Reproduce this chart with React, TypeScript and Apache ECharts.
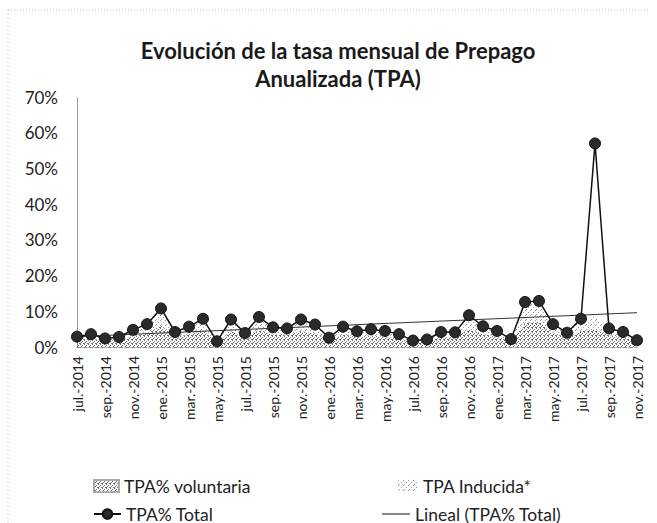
import React, { useEffect, useRef } from "react";
import * as echarts from "echarts";

const months = ["jul.", "ago.", "sep.", "oct.", "nov.", "dic.", "ene.", "feb.", "mar.", "abr.", "may.", "jun."];
const categories: string[] = [];
{
  let m = 0;
  let y = 2014;
  for (let i = 0; i < 41; i++) {
    categories.push(months[m] + "-" + y);
    m++;
    if (m === 6) y++;
    if (m === 12) m = 0;
  }
}

const totalValues = [2.9, 3.6, 2.4, 2.8, 4.8, 6.4, 10.8, 4.2, 5.7, 7.9, 1.6, 7.7, 3.9, 8.4, 5.5, 5.2, 7.7, 6.3, 2.6, 5.7, 4.4, 5.0, 4.5, 3.6, 1.8, 2.1, 4.2, 4.1, 8.9, 5.8, 4.5, 2.2, 12.6, 12.9, 6.4, 4.0, 7.9, 57.0, 5.2, 4.2, 1.9];
const voluntariaValues = [2.0, 2.4, 1.7, 1.9, 3.0, 3.8, 6.0, 2.8, 3.5, 4.6, 1.1, 4.4, 2.6, 4.8, 3.4, 3.3, 4.4, 3.8, 1.8, 3.5, 2.9, 3.2, 2.9, 2.4, 1.3, 1.5, 2.8, 2.7, 5.0, 3.6, 2.9, 1.5, 6.8, 7.0, 3.9, 2.6, 4.5, 4.8, 3.3, 2.8, 1.4];
const inducidaValues = [0.9, 1.2, 0.7, 0.9, 1.8, 2.6, 4.8, 1.4, 2.2, 3.3, 0.5, 3.3, 1.3, 3.6, 2.1, 1.9, 3.3, 2.5, 0.8, 2.2, 1.5, 1.8, 1.6, 1.2, 0.5, 0.6, 1.4, 1.4, 3.9, 2.2, 1.6, 0.7, 5.8, 5.9, 2.5, 1.4, 3.4, 3.6, 1.9, 1.4, 0.5];
const trendValues: [number, number][] = [[0, 2.9], [40, 9.6]];
const yTicks = { min: 0, max: 70, interval: 10 };

function makePattern(dots: [number, number][], size: number, color: string) {
  const c = document.createElement("canvas");
  c.width = size;
  c.height = size;
  const ctx = c.getContext("2d")!;
  ctx.fillStyle = color;
  dots.forEach(([x, y]) => ctx.fillRect(x, y, 1, 1));
  return c;
}

export default function App() {
  const ref = useRef<HTMLDivElement>(null);
  useEffect(() => {
    if (!ref.current) return;
    const chart = echarts.init(ref.current, undefined, { renderer: "svg" });
    const volPat = makePattern([[0, 0], [2, 1], [1, 2], [3, 3], [0, 3]], 4, "#6a6a6a");
    const indPat = makePattern([[0, 0], [3, 2], [1, 4]], 5, "#9a9a9a");
    const font = "Lato, 'Open Sans', sans-serif";
    const legendText = { fontSize: 17.5, color: "#222", fontFamily: font };
    chart.setOption({
      animation: false,
      backgroundColor: "#ffffff",
      textStyle: { fontFamily: font },
      title: {
        text: "Evolución de la tasa mensual de Prepago\nAnualizada (TPA)",
        left: 333,
        top: 31,
        textAlign: "center",
        textStyle: { fontSize: 22, fontWeight: "bold", color: "#1a1a1a", lineHeight: 28, fontFamily: font },
      },
      graphic: [
        {
          type: "line",
          shape: { x1: 8, y1: 10, x2: 650, y2: 10 },
          style: { stroke: "#b8b8b8", lineWidth: 1, lineDash: [1, 2] },
          silent: true,
        },
        {
          type: "line",
          shape: { x1: 8, y1: 10, x2: 8, y2: 523 },
          style: { stroke: "#b8b8b8", lineWidth: 1, lineDash: [1, 3] },
          silent: true,
        },
      ],
      grid: { left: 77, right: 20, top: 97, bottom: 176, containLabel: false },
      xAxis: {
        type: "category",
        data: categories,
        boundaryGap: false,
        axisLine: { show: true, lineStyle: { color: "#888", type: "dashed", width: 1 } },
        axisTick: { show: false },
        axisLabel: { rotate: 90, interval: 1, fontSize: 14, color: "#222", margin: 9, fontFamily: font },
        splitLine: { show: false },
      },
      yAxis: {
        type: "value",
        min: yTicks.min,
        max: yTicks.max,
        interval: yTicks.interval,
        axisLine: { show: true, lineStyle: { color: "#888", type: "dotted", width: 1 } },
        axisTick: { show: false },
        axisLabel: { formatter: "{value}%", fontSize: 17, color: "#222", margin: 19, fontFamily: font },
        splitLine: { show: false },
      },
      legend: [
        {
          data: [{ name: "TPA% voluntaria", icon: "rect" }],
          left: 88, top: 472, itemWidth: 25, itemHeight: 12,
          textStyle: legendText,
        },
        {
          data: [{ name: "TPA Inducida*", icon: "rect" }],
          left: 393, top: 472, itemWidth: 20, itemHeight: 12,
          textStyle: legendText,
        },
        {
          data: [{ name: "TPA% Total" }],
          left: 88, top: 500, itemWidth: 27, itemHeight: 12,
          textStyle: legendText,
        },
        {
          data: [{ name: "Lineal (TPA% Total)", icon: "rect" }],
          left: 377, top: 500, itemWidth: 28, itemHeight: 1.2,
          textStyle: legendText,
        },
      ],
      series: [
        {
          name: "TPA% voluntaria",
          type: "line",
          stack: "tpa",
          data: voluntariaValues,
          symbol: "none",
          lineStyle: { width: 0 },
          itemStyle: { color: { image: volPat, repeat: "repeat" }, borderColor: "#aaa", borderWidth: 0.5 },
          areaStyle: { color: { image: volPat, repeat: "repeat" }, opacity: 1 },
          z: 1,
        },
        {
          name: "TPA Inducida*",
          type: "line",
          stack: "tpa",
          data: inducidaValues,
          symbol: "none",
          lineStyle: { width: 0 },
          itemStyle: { color: { image: indPat, repeat: "repeat" } },
          areaStyle: { color: { image: indPat, repeat: "repeat" }, opacity: 1 },
          z: 1,
        },
        {
          name: "TPA% Total",
          type: "line",
          data: totalValues,
          symbol: "circle",
          symbolSize: 11,
          showAllSymbol: true,
          lineStyle: { color: "#111", width: 1.5 },
          itemStyle: { color: "#2a2a2a", borderColor: "#111", borderWidth: 1 },
          z: 3,
        },
        {
          name: "Lineal (TPA% Total)",
          type: "line",
          data: trendValues,
          symbol: "none",
          lineStyle: { color: "#333", width: 1 },
          itemStyle: { color: "#333" },
          z: 2,
        },
      ],
    });
    return () => chart.dispose();
  }, []);
  return <div ref={ref} style={{ position: "fixed", left: 0, top: 0, width: 657, height: 523 }} />;
}
